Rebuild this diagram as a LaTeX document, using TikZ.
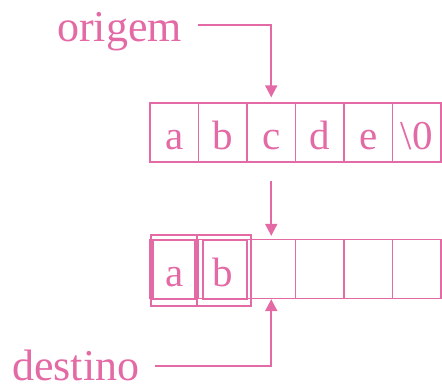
\documentclass[tikz,border=0pt]{standalone}
\usepackage{fontspec}
\setmainfont{Liberation Serif}
\usetikzlibrary{arrows.meta}
\definecolor{rosa}{RGB}{228,106,166}
\tikzset{
  cell/.style={draw=rosa, line width=1.3pt, minimum width=48.5pt, minimum height=59pt,
    inner sep=0pt, text height=35pt, text depth=0pt, text=rosa,
    font=\fontsize{41}{41}\selectfont},
  lbl/.style={text=rosa, inner sep=0pt, font=\fontsize{44}{44}\selectfont},
  ptr/.style={draw=rosa, line width=2pt, -{Triangle[length=12pt,width=12pt]}},
}
\begin{document}
\begin{tikzpicture}[x=1pt,y=-1pt]
  \useasboundingbox (0,0) rectangle (442,385);

  % origem row
  \foreach \ch [count=\i] in {a,b,c,d,e,{\textbackslash 0}}
    \node[cell] (o\i) at ({150+48.5*(\i-0.5)},132.5) {\ch};

  % destino row
  \foreach \ch [count=\i] in {a,b,{},{},{},{}}
    \node[cell] (d\i) at ({150+48.5*(\i-0.5)},269) {\ch};

  % copied cells
  \draw[rosa, line width=1.3pt] (151,235) rectangle (197,306);
  \draw[rosa, line width=1.3pt] (197,235) rectangle (251,306);
  \draw[rosa, line width=1.3pt] (153,240) rectangle (195,299);
  \draw[rosa, line width=1.3pt] (203,240) rectangle (247,299);

  % labels
  \node[lbl, anchor=base west] (lorig) at (57,42) {origem};
  \node[lbl, anchor=base west] (ldest) at (12,380) {destino};

  % pointers
  \coordinate (orig-start) at (198,25);
  \coordinate (dest-start) at (155,366);
  \draw[ptr] (orig-start) -| ([yshift=5pt]o3.north);
  \draw[ptr] ([yshift=-18pt]o3.south) -- ([yshift=3pt]d3.north);
  \draw[ptr] (dest-start) -| (d3.south);
\end{tikzpicture}
\end{document}
